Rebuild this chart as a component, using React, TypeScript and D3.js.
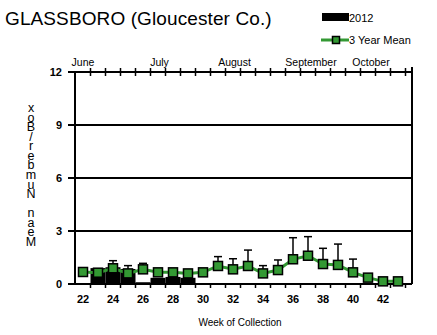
import React from "react";
import * as d3 from "d3";

// Weekly mosquito collection, Glassboro (Gloucester Co.)
const weeks = [22, 23, 24, 25, 26, 27, 28, 29, 30, 31, 32, 33, 34, 35, 36, 37, 38, 39, 40, 41, 42, 43];
const counts2012 = [0, 0.9, 0.95, 0.85, 0.1, 0.35, 0.4, 0.35, 0, 0, 0, 0, 0, 0, 0, 0, 0, 0, 0, 0, 0, 0];
const meanValues = [0.68, 0.64, 0.89, 0.6, 0.83, 0.66, 0.66, 0.6, 0.66, 1.02, 0.83, 1.02, 0.6, 0.79, 1.4, 1.6, 1.13, 1.08, 0.66, 0.36, 0.15, 0.15];
const meanUpper = [0.68, 0.64, 1.32, 1.04, 1.17, 0.66, 0.66, 0.6, 0.66, 1.55, 1.43, 1.92, 1.04, 1.36, 2.62, 2.68, 2.02, 2.26, 1.41, 0.36, 0.15, 0.15];
const yTicks = [0, 3, 6, 9, 12];
const xTickLabels = [22, 24, 26, 28, 30, 32, 34, 36, 38, 40, 42];
const months = [
  { name: "June", week: 22.0 },
  { name: "July", week: 27.1 },
  { name: "August", week: 32.1 },
  { name: "September", week: 37.2 },
  { name: "October", week: 41.2 },
];
const yLabel = "Mean Number/Box";

const FONT = "'Liberation Sans', Arial, sans-serif";
const GREEN = "#339933";

export default function App() {
  const x = d3.scaleLinear().domain([21.5, 43.95]).range([75.5, 412.25]);
  const y = d3.scaleLinear().domain([0, 12]).range([284, 72]);
  const left = 75;
  const right = 412;
  const bw = x(1) - x(0);

  const line = d3
    .line<number>()
    .x((_, i) => x(weeks[i]))
    .y((d) => y(d));

  const halfTicks = d3.range(22.5, 44, 1);
  // stacked upright letters, read bottom to top
  const stacked = yLabel.split("").reverse().join("");

  return (
    <svg width={437} height={335} style={{ position: "absolute", left: 0, top: 0 }} fontFamily={FONT}>
      <rect width={437} height={335} fill="#fff" />
      {/* title */}
      <text x={5} y={25} fontSize={19} letterSpacing={-0.6} textLength={266} lengthAdjust="spacing">
        GLASSBORO (Gloucester Co.)
      </text>
      {/* legend */}
      <rect x={322} y={13} width={27} height={8} fill="#000" />
      <text x={349} y={22} fontSize={11}>2012</text>
      <line x1={321} x2={349} y1={40} y2={40} stroke={GREEN} strokeWidth={3} />
      <rect x={332.5} y={36.5} width={7} height={7} fill={GREEN} stroke="#000" strokeWidth={1.5} />
      <text x={349} y={44} fontSize={11}>3 Year Mean</text>

      {/* months */}
      {months.map((m) => (
        <text key={m.name} x={x(m.week)} y={66} fontSize={10.5} textAnchor="middle">
          {m.name}
        </text>
      ))}

      {/* 2012 bars */}
      {counts2012.map((v, i) =>
        v > 0 ? (
          <rect key={i} x={x(weeks[i]) - bw / 2} y={y(v)} width={bw} height={y(0) - y(v)} fill="#000" />
        ) : null
      )}

      {/* gridlines */}
      {[3, 6, 9].map((t) => (
        <line key={t} x1={left} x2={right} y1={y(t)} y2={y(t)} stroke="#000" strokeWidth={2} />
      ))}

      {/* frame */}
      <line x1={left} x2={right} y1={y(12)} y2={y(12)} stroke="#000" strokeWidth={2} />
      <line x1={left} x2={right} y1={y(0)} y2={y(0)} stroke="#000" strokeWidth={2} />
      <line x1={left} x2={left} y1={y(12)} y2={y(0)} stroke="#000" strokeWidth={2} />
      <line x1={right} x2={right} y1={y(12) - 5} y2={y(0)} stroke="#000" strokeWidth={2} />

      {/* top ticks */}
      {halfTicks.map((t) => (
        <line key={t} x1={x(t)} x2={x(t)} y1={y(12) - 4} y2={y(12) + 4} stroke="#000" strokeWidth={1.5} />
      ))}
      {/* bottom ticks */}
      {halfTicks.map((t) => (
        <line key={t} x1={x(t)} x2={x(t)} y1={y(0)} y2={y(0) + 4} stroke="#000" strokeWidth={1.5} />
      ))}
      {/* left ticks + labels */}
      {yTicks.map((t) => (
        <g key={t}>
          <line x1={left - 7} x2={left} y1={y(t)} y2={y(t)} stroke="#000" strokeWidth={2} />
          <text x={62} y={y(t) + 4} fontSize={11} fontWeight="bold" textAnchor="end">
            {t}
          </text>
        </g>
      ))}
      {xTickLabels.map((t) => (
        <text key={t} x={x(t)} y={303} fontSize={11} fontWeight="bold" textAnchor="middle">
          {t}
        </text>
      ))}

      {/* mean line with error bars */}
      <path d={line(meanValues) || ""} fill="none" stroke={GREEN} strokeWidth={3} />
      {meanValues.map((v, i) =>
        meanUpper[i] > v + 0.05 ? (
          <g key={i}>
            <line x1={x(weeks[i])} x2={x(weeks[i])} y1={y(v)} y2={y(meanUpper[i])} stroke="#000" strokeWidth={1.5} />
            <line x1={x(weeks[i]) - 4} x2={x(weeks[i]) + 4} y1={y(meanUpper[i])} y2={y(meanUpper[i])} stroke="#000" strokeWidth={1.5} />
          </g>
        ) : null
      )}
      {meanValues.map((v, i) => (
        <rect key={i} x={x(weeks[i]) - 4.5} y={y(v) - 4.5} width={9} height={9} fill={GREEN} stroke="#000" strokeWidth={1.5} />
      ))}

      {/* axis titles */}
      <text x={240} y={326} fontSize={10} textAnchor="middle">Week of Collection</text>
      <text
        x={31}
        y={101}
        fontSize={12.5}
        textLength={148}
        lengthAdjust="spacing"
        style={{ writingMode: "vertical-rl", textOrientation: "upright" } as React.CSSProperties}
      >
        {stacked}
      </text>
    </svg>
  );
}
